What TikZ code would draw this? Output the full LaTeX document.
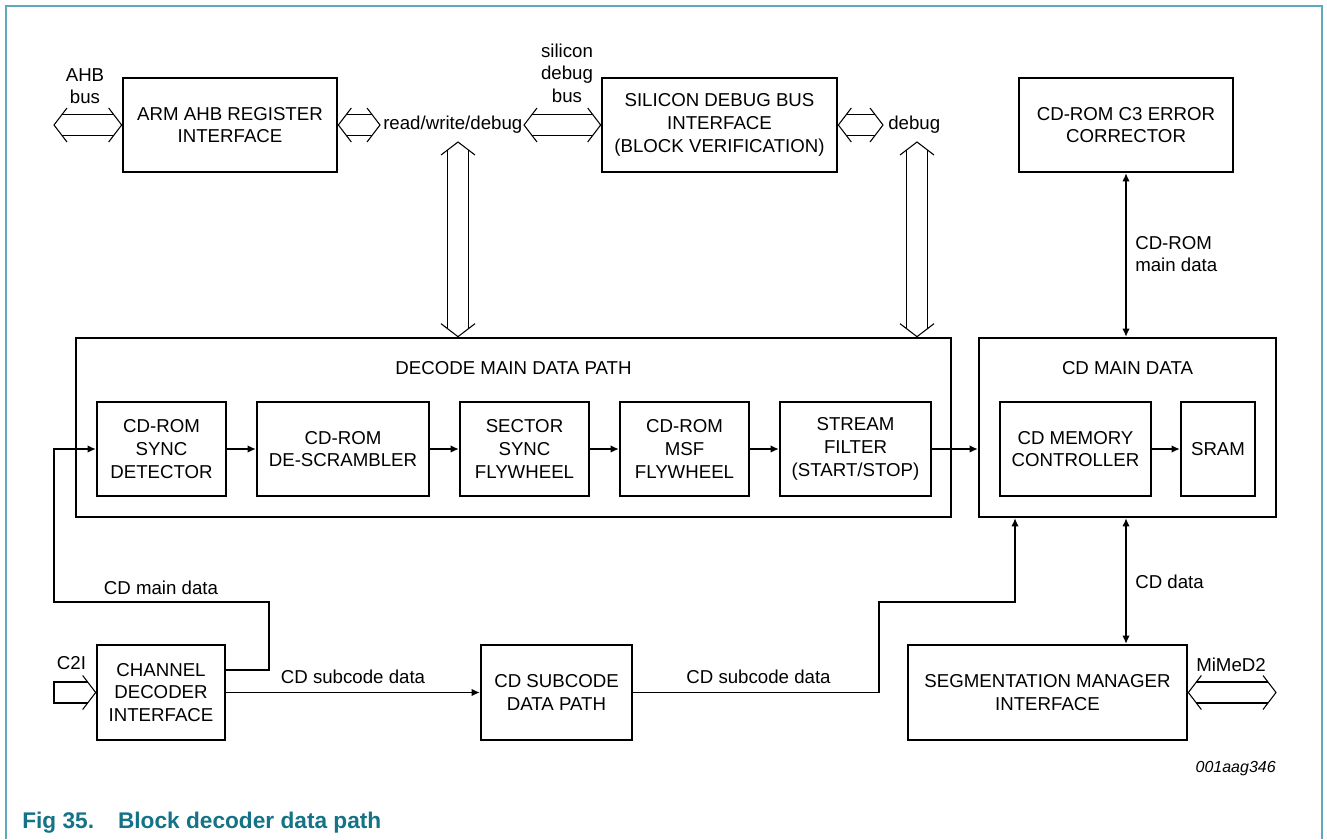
\documentclass[tikz,border=0pt]{standalone}
\usepackage{fontspec}
\setmainfont{Liberation Sans}
\usetikzlibrary{arrows.meta,calc}

\definecolor{cadre}{RGB}{95,168,190}
\definecolor{legende}{RGB}{20,115,135}

% Bus creux horizontal a double pointe (de #1 a gauche vers #2 a droite)
\newcommand{\hbus}[2]{%
  \draw[bus] ($(#1)+(8,-10.5)$) -- ($(#2)+(-8,-10.5)$);
  \draw[bus] ($(#1)+(8,10.5)$) -- ($(#2)+(-8,10.5)$);
  \draw[bus] ($(#1)+(13,-17)$) -- (#1) -- ($(#1)+(13,17)$);
  \draw[bus] ($(#2)+(-13,-17)$) -- (#2) -- ($(#2)+(-13,17)$);
}
% Bus creux vertical a double pointe (de #1 en haut vers #2 en bas)
\newcommand{\vbus}[2]{%
  \draw[bus] ($(#1)+(-10.5,8)$) -- ($(#2)+(-10.5,-8)$);
  \draw[bus] ($(#1)+(10.5,8)$) -- ($(#2)+(10.5,-8)$);
  \draw[bus] ($(#1)+(-17,13)$) -- (#1) -- ($(#1)+(17,13)$);
  \draw[bus] ($(#2)+(-17,-13)$) -- (#2) -- ($(#2)+(17,-13)$);
}

\tikzset{
  bloc/.style={draw, line width=2pt, align=center, inner sep=0pt, font=\fontsize{14}{17}\selectfont},
  taille/.style 2 args={minimum width=#1*0.75pt, minimum height=#2*0.75pt},
  texte/.style={align=center, inner sep=0pt, font=\fontsize{14}{17}\selectfont},
  fil/.style={line width=0.8pt},
  bus/.style={line width=0.8pt},
}

\begin{document}
\begin{tikzpicture}[x=0.75pt, y=-0.75pt, >={Latex[length=6pt,width=5.5pt]}]

  % Cadre de la figure (ouvert en bas)
  \useasboundingbox (0,0) rectangle (1327,839);
  \draw[cadre, line width=1.5pt] (6,839) -- (6,6) -- (1322,6) -- (1322,839);

  % Rangee du haut : interfaces de bus
  \node[bloc, taille={214}{94}] (arm) at (230,125) {ARM AHB REGISTER\\INTERFACE};
  \node[bloc, taille={235}{94}] (sil) at (719.5,125) {SILICON DEBUG BUS\\INTERFACE\\(BLOCK VERIFICATION)};
  \node[bloc, taille={214}{94}] (c3) at (1126,125) {CD-ROM C3 ERROR\\CORRECTOR};

  % Grands blocs du milieu
  \node[bloc, taille={875}{179}] (decode) at (513.5,427.5) {};
  \node[texte] (decodetit) at (513.5,368) {DECODE MAIN DATA PATH};
  \node[bloc, taille={297}{179}] (cdmain) at (1127.5,427.5) {};
  \node[texte] (cdmaintit) at (1127.5,368) {CD MAIN DATA};

  % Chaine interne du chemin de decodage
  \foreach \nom/\cx/\larg/\txt in {sync/161.5/129/{CD-ROM\\SYNC\\DETECTOR},
      descr/343/172/{CD-ROM\\DE-SCRAMBLER}, sector/524.5/129/{SECTOR\\SYNC\\FLYWHEEL},
      msf/684.5/129/{CD-ROM\\MSF\\FLYWHEEL}, stream/855.5/151/{STREAM\\FILTER\\(START/STOP)},
      memctl/1075.5/151/{CD MEMORY\\CONTROLLER}, sram/1218/74/{SRAM}} {
    \node[bloc, taille={\larg}{94}] (\nom) at (\cx,449) {\txt};
  }
  \foreach \a/\b in {sync/descr, descr/sector, sector/msf, msf/stream, memctl/sram} {
    \draw[fil, ->] (\a) -- (\b);
  }
  \draw[fil, ->] (stream.east) -- (cdmain.west |- stream);

  % Rangee du bas
  \node[bloc, taille={128}{95}] (chan) at (161,692.5) {CHANNEL\\DECODER\\INTERFACE};
  \node[bloc, taille={151}{95}] (subc) at (556.5,692.5) {CD SUBCODE\\DATA PATH};
  \node[bloc, taille={279}{95}] (seg) at (1047.5,692.5) {SEGMENTATION MANAGER\\INTERFACE};

  % Points libres des bus
  \coordinate (ahb) at (54,125);
  \coordinate (rwd) at (380,125);
  \coordinate (sdb) at (524,125);
  \coordinate (dbg) at (883,125);
  \coordinate (rwdbas) at (458,142);
  \coordinate (dbgbas) at (917,142);
  \coordinate (mimed) at (1276,692.5);
  \coordinate (c2i) at (54,692.5);

  % Bus creux
  \hbus{ahb}{arm.west}
  \hbus{arm.east}{rwd}
  \hbus{sdb}{sil.west}
  \hbus{sil.east}{dbg}
  \vbus{rwdbas}{decode.north -| rwdbas}
  \vbus{dbgbas}{decode.north -| dbgbas}
  \hbus{seg.east}{mimed}
  % Entree C2I (fleche creuse simple)
  \draw[bus] ($(chan.west)+(-8,-10.5)$) -- ($(c2i)+(0,-10.5)$) -- ($(c2i)+(0,10.5)$) -- ($(chan.west)+(-8,10.5)$);
  \draw[bus] ($(chan.west)+(-13,-17)$) -- (chan.west) -- ($(chan.west)+(-13,17)$);

  % Etiquettes des bus
  \node[texte] (ahbtxt) at (85,86) {AHB\\bus};
  \node[texte, anchor=west] (rwdtxt) at (383,125) {read/write/debug};
  \node[texte] (sdbtxt) at (567,73) {silicon\\debug\\bus};
  \node[texte, anchor=west] (dbgtxt) at (888,125) {debug};
  \node[texte] (mimedtxt) at (1231,665) {MiMeD2};
  \node[texte] (c2itxt) at (71.5,663) {C2I};

  % Liaisons de donnees
  \draw[fil, <->] (c3.south) -- (cdmain.north -| c3);
  \node[texte, anchor=west, align=left] (cdromtxt) at (1135,254) {CD-ROM\\main data};
  \draw[fil, <->] (cdmain.south -| c3) -- (seg.north -| c3);
  \node[texte, anchor=west] (cddatatxt) at (1135,582) {CD data};

  % Donnees principales : du decodeur de canal vers la detection de synchro
  \coordinate (coude1) at (269,602);
  \coordinate (coude2) at (54,602);
  \draw[fil, ->] (chan.east |- 0,670) -| (coude1) -- (coude2) |- (sync.west);
  \node[texte] (cdmtxt) at (161,588) {CD main data};

  % Donnees de sous-code
  \draw[fil, ->] (chan.east) -- (subc.west);
  \node[texte] (sub1txt) at (353,677) {CD subcode data};
  \coordinate (coude3) at (879,602);
  \coordinate (coude4) at (1015,602);
  \draw[fil, ->] (subc.east) -| (coude3) -- (coude4) -- (cdmain.south -| coude4);
  \node[texte] (sub2txt) at (758.5,677) {CD subcode data};

  % Reference et legende
  \node[anchor=base east, inner sep=0pt, font=\fontsize{12}{14}\selectfont\itshape] (ref) at (1276,772) {001aag346};
  \node[anchor=base west, inner sep=0pt, text=legende, font=\fontsize{17}{20}\selectfont\bfseries] (legende) at (22,828) {Fig 35.\hspace{18pt}Block decoder data path};

\end{tikzpicture}
\end{document}
